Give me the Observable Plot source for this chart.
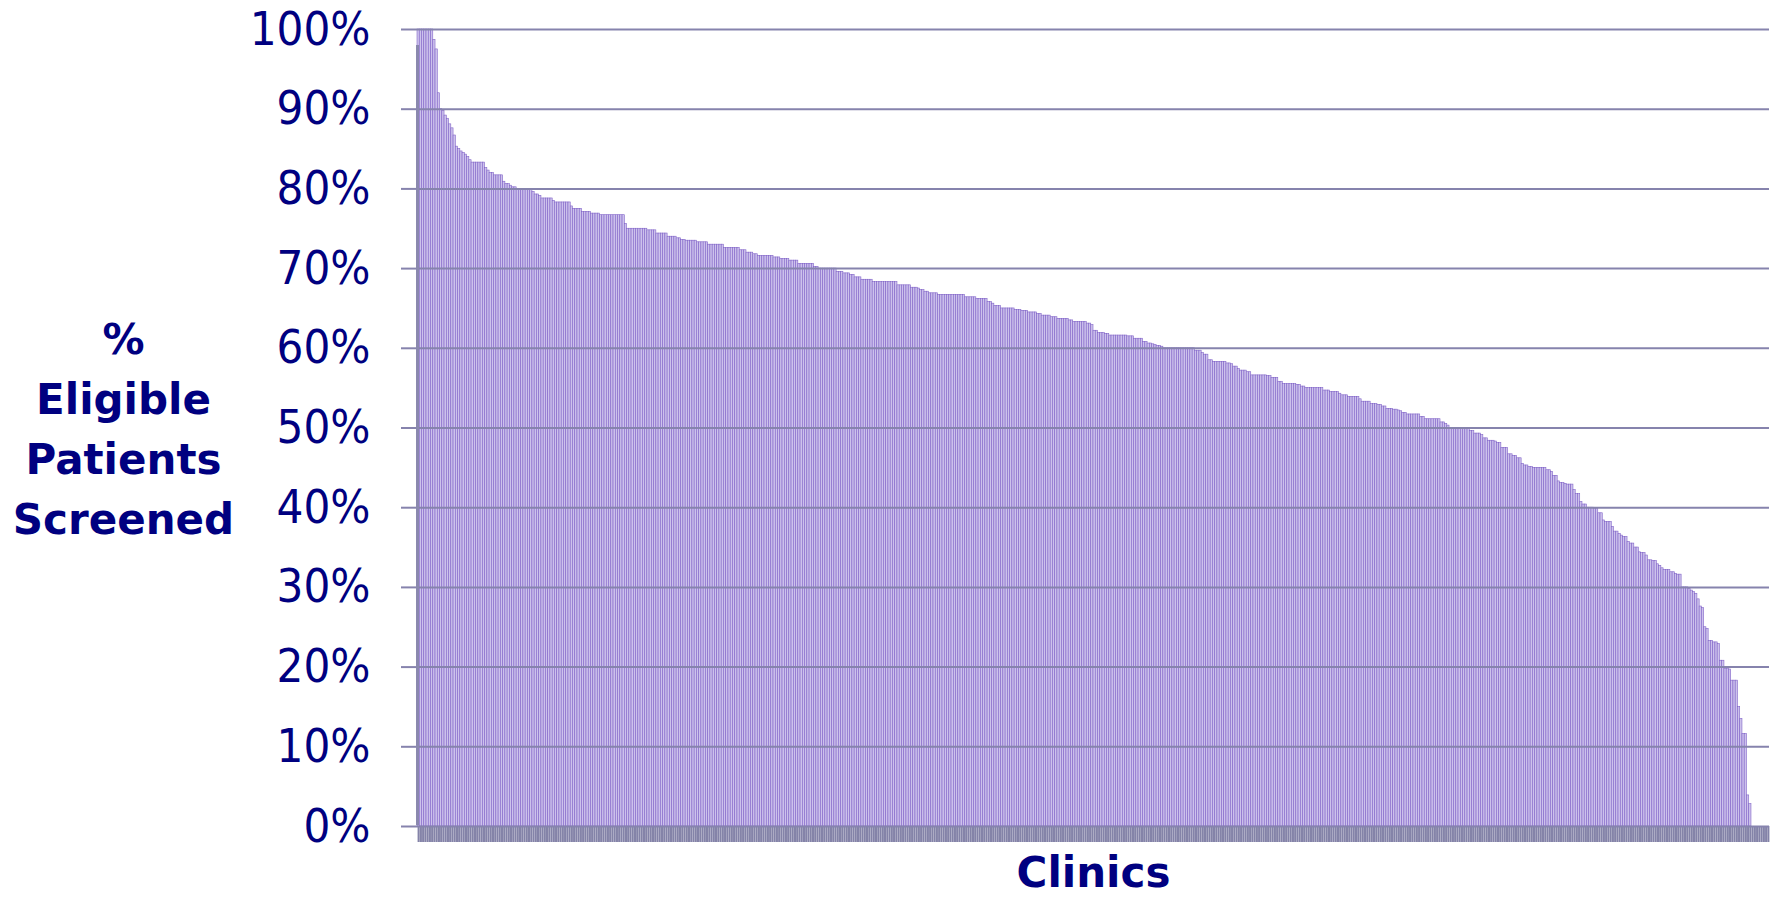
<!DOCTYPE html>
<html><head><meta charset="utf-8">
<script src="https://cdn.jsdelivr.net/npm/d3@7"></script>
<script src="https://cdn.jsdelivr.net/npm/@observablehq/plot@0.6"></script>
<style>html,body{margin:0;padding:0;background:#fff;} svg{display:block}</style>
</head><body><div id="chart"></div>
<script>
// % eligible patients screened, per clinic, sorted descending
const values = [
100,100,100,100,100,100,100,98.7,97.5,92,90,89.8,89.2,88.8,88.1,87.6,86.7,85.3,85,84.7,84.5,84.3,84,83.6,83.3,
83.3,83.3,83.3,83.3,83.3,82.6,82.3,82,82,81.7,81.7,81.7,81.7,80.9,80.6,80.6,80.4,80.2,80.2,80,80,80,80,80,80,80,
79.6,79.3,79.3,79.1,78.8,78.8,78.8,78.8,78.8,78.5,78.3,78.3,78.3,78.3,78.3,78.3,78.3,77.8,77.5,77.5,77.5,77.5,77.1,77.1,77.1,77.1,76.9,76.9,76.9,76.9,
76.7,76.7,76.7,76.7,76.7,76.7,76.7,76.7,76.7,76.7,76.7,75.6,75,75,75,75,75,75,75,75,75,74.8,74.8,74.8,74.8,74.4,74.4,74.4,74.4,74.4,
74,74,74,74,73.8,73.8,73.6,73.6,73.5,73.5,73.5,73.5,73.5,73.3,73.3,73.3,73.3,73.3,73,73,73,73,73,73,73,72.6,72.6,72.6,72.6,72.6,72.6,72.6,72.3,72.3,72.3,72,72,72,
71.8,71.8,71.6,71.6,71.6,71.6,71.6,71.6,71.6,71.4,71.4,71.4,71.2,71.2,71.2,71.2,71,71,71,71,70.6,70.6,70.6,70.6,70.6,70.6,70.6,70.2,70.2,70,70,70,70,70,70,70,70,
69.6,69.6,69.6,69.4,69.4,69.4,69.2,69.2,68.9,68.9,68.9,68.6,68.6,68.6,68.6,68.6,68.3,68.3,68.3,68.3,68.3,68.3,68.3,68.3,68.3,68.3,68.3,67.9,67.9,67.9,67.9,67.9,67.9,
67.6,67.6,67.6,67.5,67.3,67.3,67.1,67.1,66.9,66.9,66.9,66.9,66.7,66.7,66.7,66.7,66.7,66.7,66.7,66.7,66.7,66.7,66.7,66.7,66.4,66.4,66.4,66.4,66.4,66.2,66.2,66.2,66.2,66.2,
65.8,65.8,65.6,65.3,65.3,65.3,65,65,65,65,65,65,64.8,64.8,64.8,64.7,64.7,64.7,64.5,64.5,64.5,64.5,64.3,64.3,64.1,64.1,64.1,64.1,63.9,63.9,63.9,63.7,63.7,63.7,63.7,63.7,63.5,63.5,
63.3,63.3,63.3,63.3,63.3,63.3,63.1,63.1,62.9,62.2,62.2,61.9,61.9,61.9,61.8,61.8,61.6,61.6,61.6,61.6,61.6,61.6,61.6,61.6,61.5,61.5,61.5,61.2,61.2,61.2,61.2,60.8,60.8,60.6,
60.6,60.5,60.4,60.3,60.3,60.2,60,60,60,60,60,60,60,60,60,60,60,60,60,60,59.7,59.7,59.7,59.4,59.2,59.2,58.5,58.5,58.3,58.3,58.3,58.3,58.3,58.3,58.1,58.1,58,
57.7,57.7,57.4,57.2,57.2,57.2,57,57,56.6,56.6,56.6,56.6,56.6,56.6,56.6,56.5,56.5,56.3,56.3,56.3,55.8,55.8,55.5,55.5,55.5,55.5,55.5,55.5,55.4,55.4,55.2,55.2,55,55,55,55,55,55,55,55,
54.7,54.7,54.7,54.5,54.5,54.5,54.5,54.3,54.1,54.1,54.1,53.9,53.9,53.9,53.9,53.9,53.6,53.3,53.3,53.3,53.3,53,53,53,52.9,52.9,52.7,52.7,52.4,52.4,
52.4,52.3,52.3,52.2,52.1,51.9,51.9,51.7,51.7,51.7,51.7,51.7,51.7,51.4,51.4,51.1,51.1,51.1,51.1,51.1,51.1,51.1,50.7,50.7,50.5,50.3,50,50,50,50,50,50,50,50,50,
49.6,49.6,49.3,49.3,49.3,49.1,48.7,48.7,48.4,48.4,48.4,48.3,48.1,48.1,47.5,47.5,47.5,46.7,46.7,46.5,46.5,46.2,46.2,45.5,45.3,45.3,45.1,45.1,45,45,45,45,45,45,
44.7,44.7,44.5,44,44,43.3,43.1,43.1,43,42.9,42.9,42.9,42.2,41.7,41.7,40.7,40.4,40.4,40,40,40,39.9,39.9,39.3,39.3,38.4,38.2,38.2,38.2,
37.6,37,37,36.7,36.5,36.3,36.3,35.7,35.5,35.5,35,35,34.4,34.3,34.3,34,33.4,33.4,33.3,33.3,32.9,32.7,32.4,32.2,32.2,32.2,
31.9,31.9,31.7,31.6,31.6,30,30,30,29.8,29.6,29.4,29.2,28.5,27.6,27.4,25,24.8,23.3,23.3,23.1,23.1,22.9,20.8,20.8,19.8,19.8,19.7,18.3,18.3,18.3,15,13.5,11.6,11.6,3.9,2.8,0,0,0,0,0,0,0,0
];
const clinics = values.map((_, i) => "Clinic " + (i + 1));
const yTicks = [0, 10, 20, 30, 40, 50, 60, 70, 80, 90, 100];
const yTickLabels = ["0%", "10%", "20%", "30%", "40%", "50%", "60%", "70%", "80%", "90%", "100%"];
const yTitle = ["%", "Eligible", "Patients", "Screened"];
const xTitle = "Clinics";

const data = clinics.map((c, i) => ({clinic: c, value: values[i]}));

const navy = "#000080";
const gridColor = "#8683ad";

const chart = Plot.plot({
  width: 1776, height: 898,
  marginLeft: 417, marginRight: 7, marginTop: 29, marginBottom: 72,
  style: {background: "#fff", fontFamily: "'DejaVu Sans Condensed', 'DejaVu Sans', sans-serif", overflow: "visible"},
  x: {type: "band", domain: clinics, padding: 0, axis: null},
  y: {domain: [0, 100], axis: null},
  marks: [
    Plot.barY(data, {x: "clinic", y: "value", fill: "#cdc2ec", stroke: "#8164c8", strokeWidth: 0.6}),
    Plot.axisX(clinics, {tickSize: 16, tickFormat: () => "", stroke: "#8483a8", strokeWidth: 2.1, label: null}),
    Plot.ruleY(yTicks, {stroke: gridColor, strokeWidth: 2}),
    Plot.axisY(yTicks, {tickSize: 16, tickPadding: 31, tickFormat: d => yTickLabels[yTicks.indexOf(d)], fontSize: 47, fill: navy, stroke: gridColor, strokeWidth: 2, label: null}),
    Plot.ruleX([clinics[0]], {x: d => d, dx: -1.1, y1: 0, y2: 100, insetBottom: -16, insetTop: -1, stroke: "#8a88ae", strokeWidth: 3}),
    Plot.text([yTitle.join("\n")], {frameAnchor: "left", dx: -294, dy: -3, textAnchor: "middle", lineHeight: 1.43, fontSize: 42, fontWeight: "bold", fill: navy, fontFamily: "'DejaVu Sans', sans-serif"}),
    Plot.text([xTitle], {frameAnchor: "bottom", dy: 60, fontSize: 42, fontWeight: "bold", fill: navy, fontFamily: "'DejaVu Sans', sans-serif"})
  ]
});
document.getElementById("chart").appendChild(chart);
</script>
</body></html>
